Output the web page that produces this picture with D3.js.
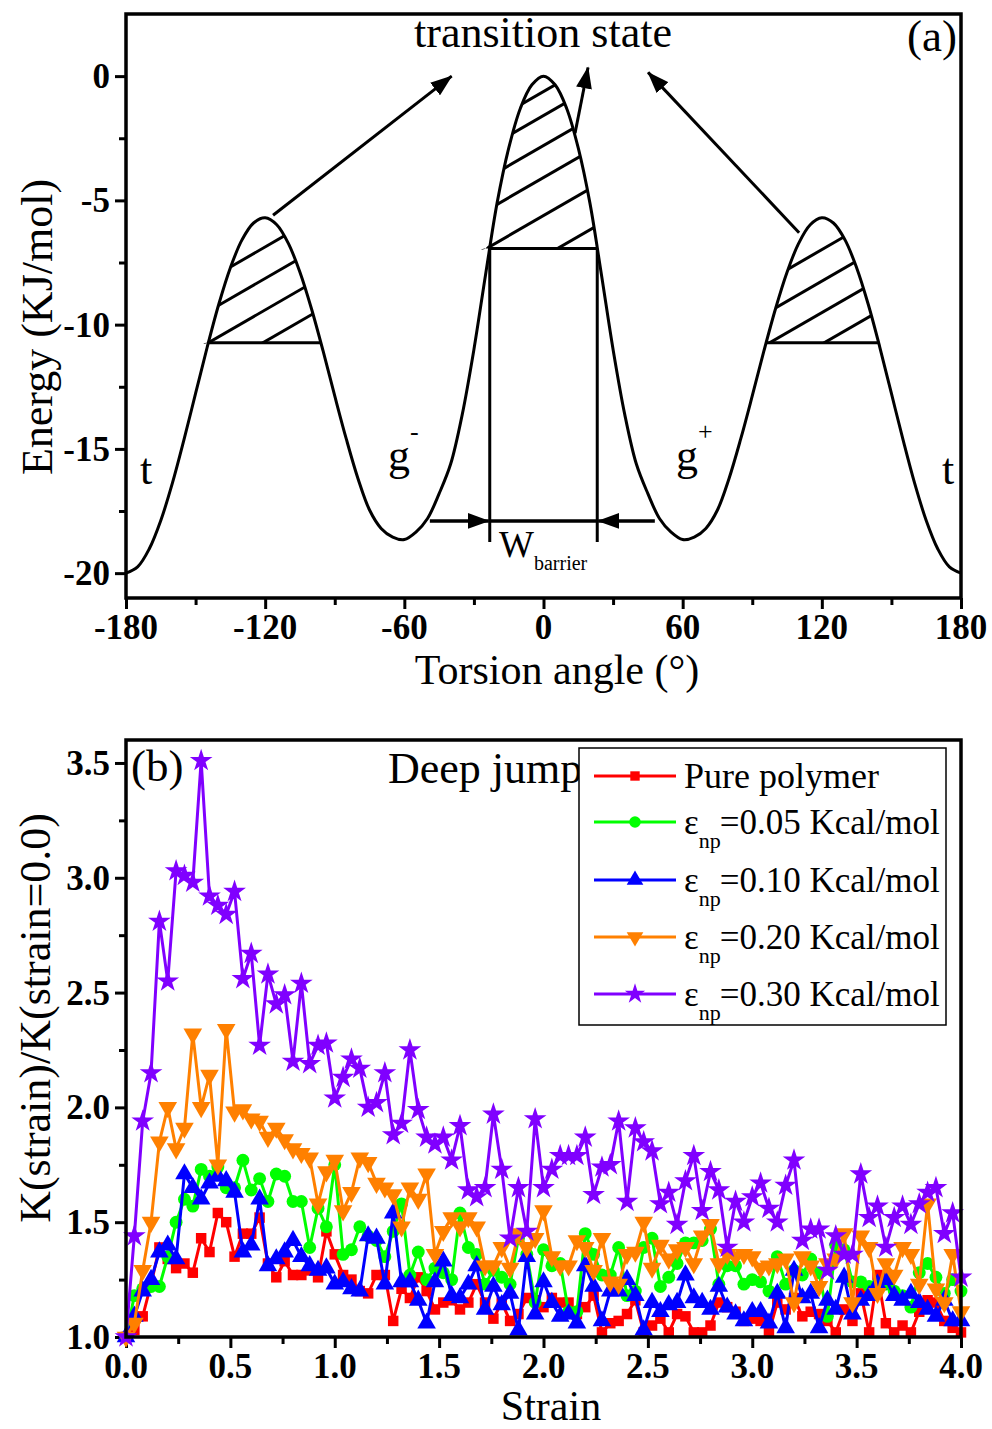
<!DOCTYPE html>
<html><head><meta charset="utf-8">
<script src="https://cdn.jsdelivr.net/npm/d3@7/dist/d3.min.js"></script>
<style>body{margin:0;background:#fff}</style>
</head><body>
<svg id="c" width="992" height="1429" xmlns="http://www.w3.org/2000/svg"></svg>
<script>
// ---------------- Panel (a) data ----------------
const torsionAngle = [-180,-175,-170,-165,-160,-155,-150,-145,-140,-135,-130,-125,-120,-115,-110,-105,-100,-95,-90,-85,-80,-75,-70,-65,-60,-55,-50,-45,-40,-35,-30,-25,-20,-15,-10,-5,0,5,10,15,20,25,30,35,40,45,50,55,60,65,70,75,80,85,90,95,100,105,110,115,120,125,130,135,140,145,150,155,160,165,170,175,180];
const torsionEnergy = [-20.0,-19.75,-19.03,-17.88,-16.38,-14.63,-12.77,-10.91,-9.18,-7.71,-6.59,-5.91,-5.70,-5.98,-6.73,-7.89,-9.37,-11.07,-12.87,-14.61,-16.19,-17.46,-18.2,-18.55,-18.65,-18.35,-17.8,-16.8,-15.6,-13.6,-11.0,-8.0,-5.1,-2.9,-1.3,-0.35,0.0,-0.35,-1.3,-2.9,-5.1,-8.0,-11.0,-13.6,-15.6,-16.8,-17.8,-18.35,-18.65,-18.55,-18.2,-17.46,-16.19,-14.61,-12.87,-11.07,-9.37,-7.89,-6.73,-5.98,-5.70,-5.91,-6.59,-7.71,-9.18,-10.91,-12.77,-14.63,-16.38,-17.88,-19.03,-19.75,-20.0];
const xTicksA = [-180,-120,-60,0,60,120,180];
const xMinorA = [-150,-90,-30,30,90,150];
const yTicksA = [0,-5,-10,-15,-20];
const yMinorA = [-2.5,-7.5,-12.5,-17.5];
const xTickLabelsA = ["-180","-120","-60","0","60","120","180"];
const yTickLabelsA = ["0","-5","-10","-15","-20"];

// ---------------- Panel (b) data ----------------
const strain = [0.00,0.04,0.08,0.12,0.16,0.20,0.24,0.28,0.32,0.36,0.40,0.44,0.48,0.52,0.56,0.60,0.64,0.68,0.72,0.76,0.80,0.84,0.88,0.92,0.96,1.00,1.04,1.08,1.12,1.16,1.20,1.24,1.28,1.32,1.36,1.40,1.44,1.48,1.52,1.56,1.60,1.64,1.68,1.72,1.76,1.80,1.84,1.88,1.92,1.96,2.00,2.04,2.08,2.12,2.16,2.20,2.24,2.28,2.32,2.36,2.40,2.44,2.48,2.52,2.56,2.60,2.64,2.68,2.72,2.76,2.80,2.84,2.88,2.92,2.96,3.00,3.04,3.08,3.12,3.16,3.20,3.24,3.28,3.32,3.36,3.40,3.44,3.48,3.52,3.56,3.60,3.64,3.68,3.72,3.76,3.80,3.84,3.88,3.92,3.96,4.00];
const purePolymer = [1.00,1.03,1.09,1.23,1.39,1.34,1.30,1.32,1.28,1.43,1.37,1.54,1.50,1.35,1.45,1.45,1.52,1.32,1.26,1.33,1.27,1.27,1.29,1.26,1.46,1.36,1.27,1.25,1.20,1.19,1.27,1.27,1.07,1.21,1.17,1.26,1.20,1.12,1.15,1.16,1.12,1.15,1.23,1.15,1.08,1.15,1.07,1.10,1.17,1.16,1.13,1.17,1.15,1.15,1.10,1.13,1.18,1.02,1.06,1.07,1.10,1.16,1.02,1.05,1.08,1.02,1.10,1.09,1.02,1.02,1.05,1.15,1.13,1.11,1.07,1.08,1.07,1.02,1.15,1.12,1.17,1.09,1.11,1.10,1.07,1.02,1.12,1.07,1.19,1.02,1.27,1.06,1.02,1.05,1.02,1.11,1.16,1.15,1.07,1.04,1.02];
const eps005 = [1.00,1.18,1.21,1.22,1.22,1.35,1.50,1.60,1.57,1.73,1.70,1.74,1.65,1.65,1.77,1.64,1.69,1.59,1.71,1.70,1.59,1.59,1.39,1.56,1.48,1.75,1.36,1.38,1.48,1.44,1.42,1.35,1.46,1.58,1.27,1.37,1.25,1.30,1.28,1.25,1.54,1.39,1.36,1.23,1.29,1.26,1.23,1.43,1.36,1.15,1.38,1.31,1.32,1.11,1.11,1.45,1.36,1.27,1.27,1.39,1.18,1.20,1.39,1.43,1.22,1.26,1.32,1.41,1.41,1.42,1.47,1.23,1.31,1.31,1.23,1.25,1.24,1.20,1.35,1.23,1.29,1.27,1.34,1.28,1.09,1.40,1.38,1.24,1.24,1.22,1.23,1.23,1.20,1.18,1.13,1.28,1.32,1.26,1.19,1.25,1.20];
const eps010 = [1.00,1.09,1.20,1.25,1.37,1.40,1.34,1.71,1.65,1.60,1.67,1.70,1.68,1.63,1.37,1.40,1.60,1.31,1.34,1.37,1.42,1.35,1.31,1.29,1.30,1.23,1.24,1.21,1.20,1.44,1.43,1.23,1.54,1.24,1.24,1.16,1.06,1.24,1.33,1.18,1.17,1.23,1.31,1.12,1.22,1.14,1.19,1.03,1.35,1.10,1.24,1.15,1.09,1.10,1.06,1.31,1.22,1.07,1.20,1.20,1.25,1.18,1.03,1.15,1.11,1.14,1.15,1.27,1.17,1.15,1.12,1.22,1.13,1.10,1.07,1.11,1.11,1.06,1.19,1.04,1.29,1.17,1.19,1.04,1.16,1.12,1.26,1.10,1.16,1.18,1.23,1.25,1.18,1.16,1.19,1.15,1.12,1.09,1.16,1.07,1.07];
const eps020 = [1.00,1.06,1.29,1.50,1.85,2.00,1.82,1.91,2.32,2.00,2.14,1.75,2.34,1.98,1.99,1.95,1.94,1.87,1.91,1.86,1.82,1.80,1.78,1.58,1.72,1.77,1.55,1.63,1.78,1.76,1.67,1.65,1.62,1.48,1.65,1.60,1.71,1.36,1.46,1.52,1.48,1.52,1.48,1.31,1.31,1.39,1.30,1.45,1.39,1.43,1.55,1.35,1.31,1.31,1.42,1.39,1.29,1.43,1.24,1.23,1.36,1.37,1.50,1.30,1.40,1.34,1.38,1.39,1.32,1.44,1.49,1.32,1.36,1.35,1.36,1.35,1.30,1.31,1.32,1.34,1.15,1.35,1.31,1.22,1.32,1.34,1.45,1.15,1.44,1.39,1.19,1.32,1.27,1.39,1.36,1.23,1.58,1.21,1.15,1.36,1.11];
const eps030 = [1.00,1.44,1.94,2.15,2.81,2.55,3.03,3.01,2.98,3.51,2.92,2.88,2.84,2.94,2.56,2.67,2.27,2.58,2.45,2.49,2.20,2.54,2.19,2.27,2.28,2.04,2.13,2.21,2.17,2.00,2.02,2.15,1.88,1.93,2.25,1.99,1.87,1.84,1.87,1.77,1.92,1.64,1.61,1.65,1.97,1.73,1.43,1.65,1.46,1.95,1.65,1.73,1.79,1.79,1.79,1.87,1.62,1.74,1.75,1.94,1.59,1.91,1.85,1.81,1.58,1.63,1.49,1.68,1.79,1.55,1.72,1.64,1.39,1.59,1.50,1.61,1.67,1.56,1.50,1.66,1.77,1.42,1.47,1.47,1.29,1.44,1.36,1.36,1.71,1.52,1.57,1.39,1.52,1.57,1.49,1.58,1.63,1.65,1.45,1.54,1.26];
const seriesNames = ["Pure polymer","=0.05 Kcal/mol","=0.10 Kcal/mol","=0.20 Kcal/mol","=0.30 Kcal/mol"];
const xTicksB = [0,0.5,1,1.5,2,2.5,3,3.5,4];
const xMinorB = [0.25,0.75,1.25,1.75,2.25,2.75,3.25,3.75];
const yTicksB = [1,1.5,2,2.5,3,3.5];
const yMinorB = [1.25,1.75,2.25,2.75,3.25];
const xTickLabelsB = ["0.0","0.5","1.0","1.5","2.0","2.5","3.0","3.5","4.0"];
const yTickLabelsB = ["1.0","1.5","2.0","2.5","3.0","3.5"];

// ---------------- drawing ----------------
const FONT = '"Liberation Serif","Times New Roman",serif';
const svg = d3.select('#c');
svg.append('rect').attr('width',992).attr('height',1429).attr('fill','#fff');
const defs = svg.append('defs');
defs.append('marker').attr('id','ah').attr('viewBox','0 0 22 16').attr('refX',21).attr('refY',8)
  .attr('markerWidth',22).attr('markerHeight',16).attr('orient','auto').attr('markerUnits','userSpaceOnUse')
  .append('path').attr('d','M0,0 L22,8 L0,16 Z').attr('fill','#000');

function txt(g, x, y, s, size, opts={}) {
  const t = g.append('text').attr('x',x).attr('y',y).text(s)
    .attr('font-family',FONT).attr('font-size',size).attr('fill','#000')
    .attr('text-anchor',opts.anchor||'start');
  if (opts.bold) t.attr('font-weight','bold');
  return t;
}
function styleAxis(sel){
  sel.select('.domain').remove();
  sel.selectAll('.tick line').attr('stroke','#000').attr('stroke-width',3);
}

// ===== Panel (a) =====
const xA = d3.scaleLinear().domain([-180,180]).range([126,961]);
const yA = d3.scaleLinear().domain([-21,2.5]).range([598,14]);
const gA = svg.append('g');
const L = xA.range()[0], R = xA.range()[1], T = yA.range()[1], B = yA.range()[0];

gA.append('g').attr('transform',`translate(0,${B})`).call(d3.axisBottom(xA).tickValues(xTicksA).tickSize(11).tickFormat('')).call(styleAxis);
gA.append('g').attr('transform',`translate(0,${B})`).call(d3.axisBottom(xA).tickValues(xMinorA).tickSize(7).tickFormat('')).call(styleAxis);
gA.append('g').attr('transform',`translate(${L},0)`).call(d3.axisLeft(yA).tickValues(yTicksA).tickSize(11).tickFormat('')).call(styleAxis);
gA.append('g').attr('transform',`translate(${L},0)`).call(d3.axisLeft(yA).tickValues(yMinorA).tickSize(7).tickFormat('')).call(styleAxis);
gA.append('rect').attr('x',L).attr('y',T).attr('width',R-L).attr('height',B-T)
  .attr('fill','none').attr('stroke','#000').attr('stroke-width',3.5);

xTicksA.forEach((v,i)=> txt(gA, xA(v), B+41, xTickLabelsA[i], 35, {anchor:'middle', bold:true}));
yTicksA.forEach((v,i)=> txt(gA, L-16, yA(v)+12, yTickLabelsA[i], 35, {anchor:'end', bold:true}));

const curvePts = torsionAngle.map((a,i)=>[a, torsionEnergy[i]]);
const lineA = d3.line().x(d=>xA(d[0])).y(d=>yA(d[1])).curve(d3.curveCatmullRom);

// hatched peaks
function crossing(from, to, thr){
  const pts = curvePts.filter(d=> d[0]>=Math.min(from,to) && d[0]<=Math.max(from,to));
  if (from>to) pts.reverse();
  for (let i=1;i<pts.length;i++){
    const a=pts[i-1], b=pts[i];
    if ((a[1]-thr)*(b[1]-thr)<=0 && a[1]!==b[1]) return a[0]+(thr-a[1])*(b[0]-a[0])/(b[1]-a[1]);
  }
  return to;
}
const peaks = [
  {c:-121, thr:-10.73, lo:-155, hi:-85, offs:[0,31.5,63,94.5]},
  {c:0,    thr:-6.94,  lo:-35,  hi:35,  offs:[-8,33,71,103,133,157]},
  {c:121,  thr:-10.73, lo:85,   hi:155, offs:[0,31.5,63,94.5]}
];
const tan30 = Math.tan(Math.PI/6);
peaks.forEach((p,k)=>{
  const id = 'clipPeak'+k;
  const pts = curvePts.filter(d=>d[0]>=p.lo && d[0]<=p.hi);
  const area = d3.area().x(d=>xA(d[0])).y0(yA(p.thr)).y1(d=>yA(Math.max(d[1],p.thr))).curve(d3.curveCatmullRom);
  defs.append('clipPath').attr('id',id).append('path').attr('d',area(pts));
  const cx = xA(p.c), by = yA(p.thr);
  const hg = gA.append('g').attr('clip-path',`url(#${id})`);
  p.offs.forEach(o=>{
    const y0 = by - o;
    hg.append('line').attr('x1',cx-120).attr('y1',y0+tan30*120).attr('x2',cx+120).attr('y2',y0-tan30*120)
      .attr('stroke','#000').attr('stroke-width',3);
  });
  const x1 = crossing(p.c, p.lo, p.thr), x2 = crossing(p.c, p.hi, p.thr);
  p.x1 = x1; p.x2 = x2;
  gA.append('line').attr('x1',xA(x1)).attr('x2',xA(x2)).attr('y1',by).attr('y2',by)
    .attr('stroke','#000').attr('stroke-width',3);
});

gA.append('path').attr('d',lineA(curvePts)).attr('fill','none').attr('stroke','#000').attr('stroke-width',3);

// W_barrier box
const cp = peaks[1];
const boxBottom = -18.75, arrowLevel = -17.9;
[cp.x1, cp.x2].forEach(a=>{
  gA.append('line').attr('x1',xA(a)).attr('x2',xA(a)).attr('y1',yA(cp.thr)).attr('y2',yA(boxBottom))
    .attr('stroke','#000').attr('stroke-width',3);
});
gA.append('line').attr('x1',xA(cp.x1)).attr('x2',xA(cp.x2)).attr('y1',yA(arrowLevel)).attr('y2',yA(arrowLevel))
  .attr('stroke','#000').attr('stroke-width',3.5);
gA.append('line').attr('x1',xA(-49)).attr('x2',xA(cp.x1)-1).attr('y1',yA(arrowLevel)).attr('y2',yA(arrowLevel))
  .attr('stroke','#000').attr('stroke-width',3.5).attr('marker-end','url(#ah)');
gA.append('line').attr('x1',xA(48)).attr('x2',xA(cp.x2)+1).attr('y1',yA(arrowLevel)).attr('y2',yA(arrowLevel))
  .attr('stroke','#000').attr('stroke-width',3.5).attr('marker-end','url(#ah)');

// arrows to "transition state"
const tsArrows = [[-116.6,-5.6,-39.6,0.0],[13.6,-2.3,19.2,0.35],[110.2,-6.3,45.1,0.15]];
tsArrows.forEach(a=>{
  gA.append('line').attr('x1',xA(a[0])).attr('y1',yA(a[1])).attr('x2',xA(a[2])).attr('y2',yA(a[3]))
    .attr('stroke','#000').attr('stroke-width',3).attr('marker-end','url(#ah)');
});

// text annotations panel (a)
txt(gA, 543, 47, 'transition state', 44, {anchor:'middle'});
txt(gA, 957, 51, '(a)', 45, {anchor:'end'});
txt(gA, 146, 484, 't', 44, {anchor:'middle'});
txt(gA, 948, 484, 't', 44, {anchor:'middle'});
const gm = txt(gA, 388, 470, 'g', 44);
gm.append('tspan').attr('dy',-30).attr('font-size',26).text('-');
const gp = txt(gA, 676, 470, 'g', 44);
gp.append('tspan').attr('dy',-30).attr('font-size',26).text('+');
const wb = txt(gA, 499, 557, 'W', 37);
wb.append('tspan').attr('dy',13).attr('font-size',20).text('barrier');

txt(gA, 557, 684, 'Torsion angle (°)', 42, {anchor:'middle'});
gA.append('text').attr('transform','translate(52,327) rotate(-90)').attr('text-anchor','middle')
  .attr('font-family',FONT).attr('font-size',44).text('Energy (KJ/mol)');

// ===== Panel (b) =====
const xB = d3.scaleLinear().domain([0,4]).range([126,961]);
const yB = d3.scaleLinear().domain([1,3.6]).range([1337,740]);
const gB = svg.append('g');
const L2 = xB.range()[0], R2 = xB.range()[1], T2 = yB.range()[1], B2 = yB.range()[0];

gB.append('g').attr('transform',`translate(0,${B2})`).call(d3.axisBottom(xB).tickValues(xTicksB).tickSize(11).tickFormat('')).call(styleAxis);
gB.append('g').attr('transform',`translate(0,${B2})`).call(d3.axisBottom(xB).tickValues(xMinorB).tickSize(7).tickFormat('')).call(styleAxis);
gB.append('g').attr('transform',`translate(${L2},0)`).call(d3.axisLeft(yB).tickValues(yTicksB).tickSize(11).tickFormat('')).call(styleAxis);
gB.append('g').attr('transform',`translate(${L2},0)`).call(d3.axisLeft(yB).tickValues(yMinorB).tickSize(7).tickFormat('')).call(styleAxis);

xTicksB.forEach((v,i)=> txt(gB, xB(v), B2+41, xTickLabelsB[i], 35, {anchor:'middle', bold:true}));
yTicksB.forEach((v,i)=> txt(gB, L2-16, yB(v)+12, yTickLabelsB[i], 35, {anchor:'end', bold:true}));

const series = [
  {name:seriesNames[0], data:purePolymer, color:'#ff0000', sym:d3.symbolSquare,   size:110, rot:0,   eps:false},
  {name:seriesNames[1], data:eps005,      color:'#00ff00', sym:d3.symbolCircle,   size:130, rot:0,   eps:true},
  {name:seriesNames[2], data:eps010,      color:'#0000ff', sym:d3.symbolTriangle, size:150, rot:0,   eps:true},
  {name:seriesNames[3], data:eps020,      color:'#ff8000', sym:d3.symbolTriangle, size:150, rot:180, eps:true},
  {name:seriesNames[4], data:eps030,      color:'#8000ff', sym:d3.symbolStar,     size:160, rot:0,   eps:true}
];
const lineB = d3.line().x((d,i)=>xB(strain[i])).y(d=>yB(d));
series.forEach(s=>{
  const g = gB.append('g');
  g.append('path').attr('d',lineB(s.data)).attr('fill','none').attr('stroke',s.color).attr('stroke-width',3)
    .attr('stroke-linejoin','round');
  const sym = d3.symbol().type(s.sym).size(s.size);
  g.selectAll('path.m').data(s.data).enter().append('path').attr('class','m')
    .attr('d',sym).attr('fill',s.color)
    .attr('transform',(d,i)=>`translate(${xB(strain[i])},${yB(d)}) rotate(${s.rot})`);
});

gB.append('rect').attr('x',L2).attr('y',T2).attr('width',R2-L2).attr('height',B2-T2)
  .attr('fill','none').attr('stroke','#000').attr('stroke-width',3.5);

txt(gB, 131, 781, '(b)', 45);
txt(gB, 388, 783, 'Deep jump', 44);

// legend
const lg = gB.append('g');
lg.append('rect').attr('x',579).attr('y',748).attr('width',367).attr('height',277)
  .attr('fill','#fff').attr('stroke','#000').attr('stroke-width',1.5);
const rowY = [776, 822, 880, 937, 994];
series.forEach((s,i)=>{
  const y = rowY[i];
  lg.append('line').attr('x1',594).attr('x2',676).attr('y1',y).attr('y2',y).attr('stroke',s.color).attr('stroke-width',3);
  lg.append('path').attr('d',d3.symbol().type(s.sym).size(s.size*0.8)).attr('fill',s.color)
    .attr('transform',`translate(635,${y}) rotate(${s.rot})`);
  if (!s.eps) {
    txt(lg, 684, y+12, s.name, 36);
  } else {
    const t = txt(lg, 684, y+12, 'ε', 35);
    t.append('tspan').attr('dy',14).attr('font-size',22).text('np');
    t.append('tspan').attr('dy',-14).attr('dx',-1).text(s.name);
  }
});

txt(gB, 551, 1420, 'Strain', 42, {anchor:'middle'});
gB.append('text').attr('transform','translate(50,1018) rotate(-90)').attr('text-anchor','middle')
  .attr('font-family',FONT).attr('font-size',44).text('K(strain)/K(strain=0.0)');
</script>
</body></html>
